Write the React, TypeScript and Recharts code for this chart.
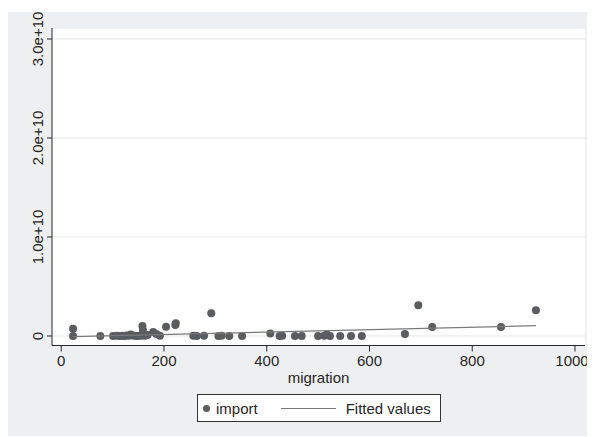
import React from 'react'
import { ScatterChart, Scatter, XAxis, YAxis, CartesianGrid } from 'recharts'

// migration vs import
const migration = [
  23, 23, 76, 101, 108, 114, 119, 123, 127, 131, 135, 138, 143, 148, 152, 156, 158, 159, 163, 168,
  179, 185, 192, 204, 222, 223, 292, 257, 264, 278, 306, 312, 327, 352, 407, 425, 430, 455, 468,
  500, 512, 517, 523, 543, 564, 585, 669, 695, 722, 856, 924,
]
const imports = [
  7.4e8, 1e7, 1e7, 1e7, 2e7, 1e7, 3e7, 1e7, 5e7, 2e7, 1.5e8, 4e7, 2e7, 1e7, 3e7, 2e7, 1.0e9, 6e8, 3e7,
  1e8, 4e8, 2e8, 3e7, 9.4e8, 1.1e9, 1.3e9, 2.3e9, 2e7, 1e7, 2e7, 1e7, 2e7, 1e7, 1e7, 2.5e8, 1e7, 2e7,
  1e7, 1e7, 1e7, 2e7, 1.5e8, 1e7, 1e7, 1e7, 1e7, 2e8, 3.1e9, 9e8, 9e8, 2.6e9,
]
const fittedX = [23, 924]
const fittedY = [-6e7, 1.04e9]

const xTicks = [0, 200, 400, 600, 800, 1000]
const yTicks = [0, 1e10, 2e10, 3e10]

const points = migration.map((x, i) => ({ x, y: imports[i] }))
const fitted = fittedX.map((x, i) => ({ x, y: fittedY[i] }))

const font = '"Liberation Sans", Arial, Helvetica, sans-serif'
const ink = '#262626'
const dotColor = '#5b5c60'
const lineColor = '#7a7a7a'

const yLabel = (v: number) => (v === 0 ? '0' : (v / 1e10).toFixed(1) + 'e+10')

function YTick(props: any) {
  const { x, y, payload } = props
  const bx = x - 2
  return (
    <text x={bx} y={y} transform={`rotate(-90, ${bx}, ${y})`} textAnchor="middle" fontSize={15} fill={ink} fontFamily={font}>
      {yLabel(payload.value)}
    </text>
  )
}

function Dot(props: any) {
  return <circle cx={props.cx} cy={props.cy} r={4} fill={dotColor} />
}

export default function App() {
  return (
    <div style={{ position: 'relative', marginTop: 4, width: 579, height: 424, background: '#eeeff1', fontFamily: font }}>
      <style>{'.recharts-surface, .recharts-wrapper { overflow: visible !important; }'}</style>
      <ScatterChart width={579} height={424} margin={{ top: 16, right: 2, left: 0, bottom: 0 }}>
        <CartesianGrid vertical={false} stroke="#e6e6e6" fill="#ffffff" />
        <XAxis
          type="number"
          dataKey="x"
          domain={[-18, 1019.5]}
          ticks={xTicks}
          allowDataOverflow
          height={90.5}
          tickSize={6}
          tickMargin={4}
          stroke={ink}
          tick={{ fill: ink, fontSize: 15, fontFamily: font }}
          label={{ value: 'migration', position: 'insideTop', offset: 27, fill: ink, fontSize: 15, fontFamily: font }}
        />
        <YAxis
          type="number"
          dataKey="y"
          domain={[-0.096e10, 3.111e10]}
          ticks={yTicks}
          allowDataOverflow
          width={44}
          tickSize={5}
          stroke={ink}
          tick={<YTick />}
        />
        <Scatter data={points} fill={dotColor} shape={<Dot />} isAnimationActive={false} />
        <Scatter data={fitted} line={{ stroke: lineColor, strokeWidth: 1.3 }} shape={() => <g />} isAnimationActive={false} />
      </ScatterChart>
      <div
        style={{
          position: 'absolute',
          left: 189,
          top: 382,
          width: 244,
          height: 28,
          boxSizing: 'border-box',
          border: '1px solid #333',
          background: '#fff',
          display: 'flex',
          alignItems: 'center',
          fontSize: 15,
          color: ink,
        }}
      >
        <span style={{ display: 'inline-block', width: 7, height: 7, borderRadius: 4, background: dotColor, marginLeft: 5 }} />
        <span style={{ marginLeft: 6 }}>import</span>
        <span style={{ display: 'inline-block', width: 55, borderTop: `1.3px solid ${lineColor}`, marginLeft: 23 }} />
        <span style={{ marginLeft: 10 }}>Fitted values</span>
      </div>
    </div>
  )
}
